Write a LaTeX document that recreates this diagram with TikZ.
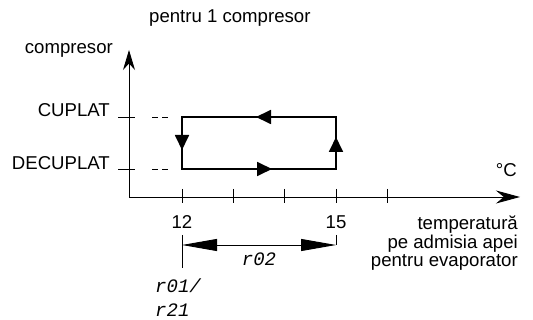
\documentclass[tikz,border=0pt]{standalone}
\usepackage{fontspec}
\setmainfont{Liberation Sans}
\newfontfamily\segfont{Liberation Mono}
\usetikzlibrary{arrows.meta}
\begin{document}
\begin{tikzpicture}[x=1pt, y=-1pt,
    axis/.style={line width=0.9pt, black},
    loopline/.style={line width=1.8pt, black},
    lbl/.style={font=\fontsize{18.6}{18.5}\selectfont, inner sep=0pt},
    seg/.style={font=\segfont\itshape\fontsize{19}{24}\selectfont, inner sep=0pt}]
    \useasboundingbox (0,0) rectangle (533,320);
    % levels (pixel units): CUPLAT / DECUPLAT, set points 12 and 15
    \def\ycup{117}
    \def\ydec{169}
    \def\xlo{182}
    \def\xhi{336}
    \coordinate (origin) at (129,197);
    \coordinate (ytip) at (129,50);
    \coordinate (xtip) at (520,197);
    % axes
    \draw[axis, -{Stealth[length=20pt,width=12pt]}] (origin) -- (ytip);
    \draw[axis, -{Stealth[length=24pt,width=13pt]}] (origin) -- (xtip);
    % x ticks
    \foreach \x in {\xlo, 233, 284, \xhi, 387} {
        \draw[axis] (\x,189) -- (\x,203);
    }
    % y ticks and the short dashed leaders
    \foreach \y in {\ycup, \ydec} {
        \draw[axis] (118,\y) -- (135,\y);
        \draw[axis, dash pattern=on 6pt off 4pt] (152,\y) -- (168,\y);
    }
    % hysteresis loop
    \coordinate (on12) at (\xlo,\ycup);
    \coordinate (on15) at (\xhi,\ycup);
    \coordinate (off12) at (\xlo,\ydec);
    \coordinate (off15) at (\xhi,\ydec);
    \draw[loopline, line join=miter] (on12) -- (on15) -- (off15) -- (off12) -- cycle;
    % direction marks on the loop
    \foreach \ax/\ay/\bx/\by in {271/\ycup/256/\ycup, \xlo/135/\xlo/150, 257/\ydec/272/\ydec, \xhi/152/\xhi/137} {
        \draw[loopline, -{Triangle[length=15pt,width=14pt]}] (\ax,\ay) -- (\bx,\by);
    }
    % differential r02 between 12 and 15
    \coordinate (dimlo) at (\xlo,245);
    \coordinate (dimhi) at (\xhi,245);
    \coordinate (extlo) at (\xlo,268);
    \coordinate (exthi) at (\xhi,235);
    \draw[axis] (\xlo,235) -- (extlo);
    \draw[axis] (exthi) -- (dimhi);
    \draw[axis, {Triangle[length=35pt,width=12pt]}-{Triangle[length=35pt,width=12pt]}] (dimlo) -- (dimhi);
    % texts (base of a multi-line node = its last line)
    \node[lbl, anchor=base west] (title) at (149,23) {pentru 1 compresor};
    \node[lbl, anchor=base east] (ylab) at (113,54) {compresor};
    \node[lbl, anchor=base east] (cuplat) at (110,117) {CUPLAT};
    \node[lbl, anchor=base east] (decuplat) at (110,170) {DECUPLAT};
    \node[lbl, anchor=base] (t12) at (\xlo,229) {12};
    \node[lbl, anchor=base] (t15) at (\xhi,229) {15};
    \node[lbl, anchor=base east] (unit) at (517,177) {°C};
    \node[lbl, anchor=base east, align=right] (xlab) at (518,267) {temperatură\\pe admisia apei\\pentru evaporator};
    \node[seg, anchor=base] (r02) at (259,266) {r02};
    \node[seg, anchor=base west, align=left] (r01) at (155,317) {r01/\\r21};
\end{tikzpicture}
\end{document}
